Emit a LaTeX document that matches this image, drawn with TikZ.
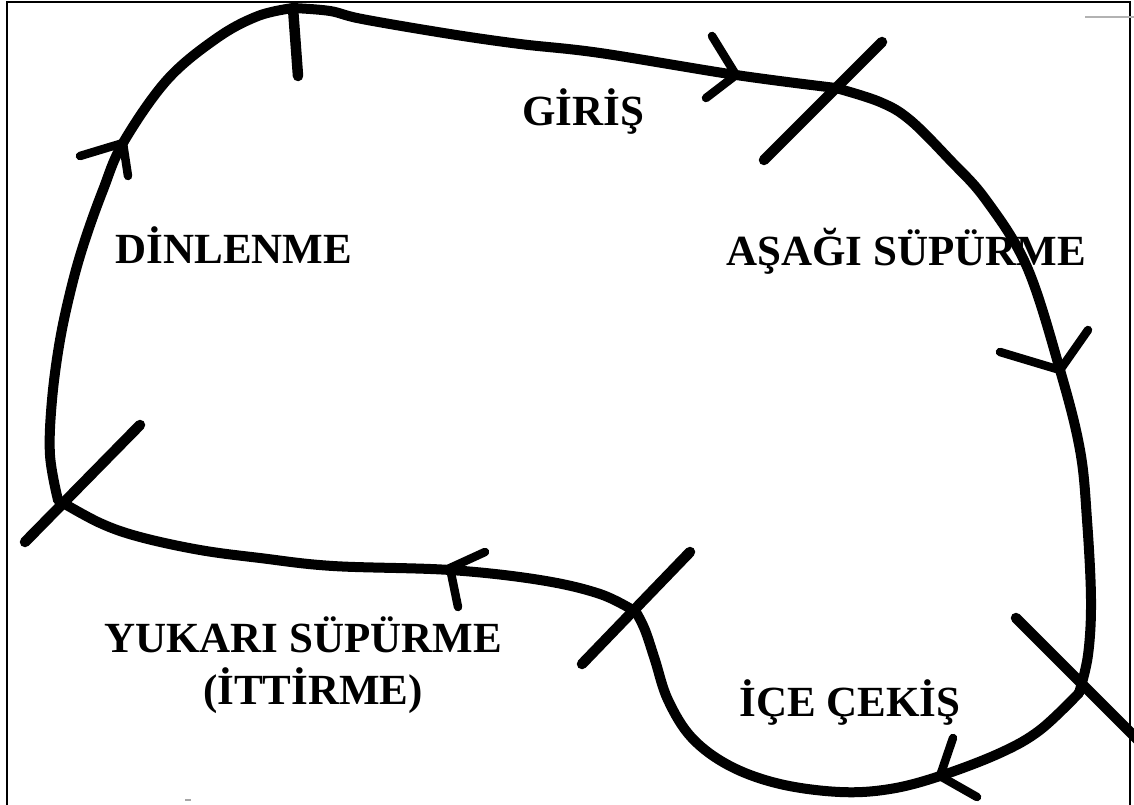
\documentclass[tikz,border=0pt]{standalone}
\usepackage{fontspec}
\setmainfont{Liberation Serif}
\begin{document}
\begin{tikzpicture}[x=1pt,y=-1pt,
  loop/.style={line width=10pt,line cap=round,line join=round},
  bar/.style={line width=10.5pt,line cap=round},
  barb/.style={line width=8.5pt,line cap=round},
  phase/.style={font=\fontsize{43}{50}\selectfont\bfseries,inner sep=0pt,anchor=base,text=black},
  frame/.style={line width=2.8pt}]
\useasboundingbox (0,0) rectangle (1134,805);
\fill[white] (0,0) rectangle (1134,805);
\begin{scope}
\clip (0,0) rectangle (1134,805);
% outer frame (open at the bottom)
\draw[frame] (7,805) -- (7,2) -- (1130,2) -- (1130,805);
\draw[gray!60,line width=2pt] (1085,17) -- (1134,17);
\draw[gray!70,line width=2pt] (185,800) -- (191,800);

% phase boundaries on the cycle
\coordinate (top) at (293,8);
\coordinate (tr)  at (836,88);
\coordinate (br)  at (1079,693);
\coordinate (bm)  at (636,612);
\coordinate (lf)  at (58,500);

% the cycle, one stroke per phase
\draw[loop] plot[smooth,tension=0.6] coordinates
  {(top) (330,11) (362,19) (450,34) (520,44) (600,53) (736,75) (tr)};
\draw[loop] plot[smooth,tension=0.6] coordinates
  {(tr) (880,102) (910,120) (950,160) (986,200) (1027,267) (1060,370) (1080,450) (1087,520) (1091,600) (1088,655) (br)};
\draw[loop] plot[smooth,tension=0.6] coordinates
  {(br) (1040,730) (1000,753) (940,776) (890,789) (840,792) (780,784) (730,766) (692,738) (668,700) (655,660) (645,630) (bm)};
\draw[loop] plot[smooth,tension=0.6] coordinates
  {(bm) (600,594) (540,580) (450,570) (333,566) (260,558) (200,550) (140,537) (100,523) (lf)};
\draw[loop] plot[smooth,tension=0.6] coordinates
  {(lf) (50,455) (52,400) (60,340) (72,285) (85,240) (103,190) (123,143) (167,80) (217,38) (258,16) (top)};

% cross bars at the phase boundaries
\coordinate (tickT) at (298,76);
\draw[bar] (top) -- (tickT);
\coordinate (trA) at (882,42);  \coordinate (trB) at (764,160);
\draw[bar] (trA) -- (trB);
\coordinate (brA) at (1016,618); \coordinate (brB) at (1138,740);
\draw[bar] (brA) -- (brB);
\coordinate (bmA) at (690,552);  \coordinate (bmB) at (582,664);
\draw[bar] (bmA) -- (bmB);
\coordinate (lfA) at (140,425);  \coordinate (lfB) at (25,542);
\draw[bar] (lfA) -- (lfB);

% direction marks along the cycle
\coordinate (aL) at (123,143);
\coordinate (aL1) at (80,156); \coordinate (aL2) at (128,176);
\draw[barb] (aL1) -- (aL) -- (aL2);
\coordinate (aT) at (736,75);
\coordinate (aT1) at (712,36); \coordinate (aT2) at (706,98);
\draw[barb] (aT1) -- (aT) -- (aT2);
\coordinate (aR) at (1060,370);
\coordinate (aR1) at (1000,352); \coordinate (aR2) at (1088,330);
\draw[barb] (aR1) -- (aR) -- (aR2);
\coordinate (aB) at (940,776);
\coordinate (aB1) at (953,738); \coordinate (aB2) at (977,797);
\draw[barb] (aB1) -- (aB) -- (aB2);
\coordinate (aM) at (450,568);
\coordinate (aM1) at (485,552); \coordinate (aM2) at (458,607);
\draw[barb] (aM1) -- (aM) -- (aM2);

% phase names
\node[phase] (giris)   at (583,126) {GİRİŞ};
\node[phase] (asagi)   at (906,265) {AŞAĞI SÜPÜRME};
\node[phase] (dinlen)  at (234,263) {DİNLENME};
\node[phase] (ice)     at (850,716) {İÇE ÇEKİŞ};
\node[phase] (yukari)  at (303,652) {YUKARI SÜPÜRME};
\node[phase] (ittirme) at (313,704) {(İTTİRME)};
\end{scope}
\end{tikzpicture}
\end{document}
